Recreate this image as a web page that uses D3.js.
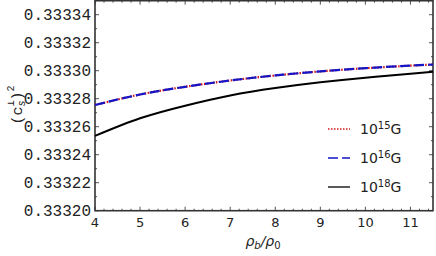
<!DOCTYPE html>
<html>
<head>
<meta charset="utf-8">
<script src="https://cdn.jsdelivr.net/npm/d3@7"></script>
<style>
  body { margin: 0; background: #fff; }
  svg { display: block; }
</style>
</head>
<body>
<div id="chart"></div>
<script>
// density ratio rho_b / rho_0
const xVals = [4, 5, 6, 7, 8, 9, 10, 11, 11.5];
// (c_s perp)^2 for each field strength
const b15 = [0.3332755, 0.3332830, 0.3332885, 0.3332930, 0.3332966, 0.3332995, 0.3333018, 0.3333036, 0.3333044];
const b16 = [0.3332755, 0.3332830, 0.3332885, 0.3332930, 0.3332966, 0.3332995, 0.3333018, 0.3333036, 0.3333044];
const b18 = [0.3332534, 0.3332660, 0.3332750, 0.3332823, 0.3332876, 0.3332917, 0.3332950, 0.3332978, 0.3332993];
const xTicks = [4, 5, 6, 7, 8, 9, 10, 11];
const yTicks = [0.33320, 0.33322, 0.33324, 0.33326, 0.33328, 0.33330, 0.33332, 0.33334];
const legendExp = ["15", "16", "18"];

const width = 436, height = 256;
const mLeft = 95, mRight = 433, mTop = 0.7, mBottom = 210.7;

let svg = d3.select("#chart").append("svg")
  .attr("width", width)
  .attr("height", height);

let x = d3.scaleLinear().domain([4, 11.5]).range([mLeft, mRight]);
let y = d3.scaleLinear().domain([0.33320, 0.33335]).range([mBottom, mTop]);

// minor + major ticks on the frame, pointing inward
let minorX = d3.range(4, 11.51, 0.2);
let minorY = d3.range(0, 16).map(i => 0.33320 + i * 0.00001);

let ticks = svg.append("g").attr("stroke", "#555").attr("stroke-width", 1);
minorX.forEach(v => {
  let major = Math.abs(v - Math.round(v)) < 1e-6;
  let len = major ? 4 : 2;
  ticks.append("line").attr("x1", x(v)).attr("x2", x(v)).attr("y1", mBottom).attr("y2", mBottom - len);
  ticks.append("line").attr("x1", x(v)).attr("x2", x(v)).attr("y1", mTop).attr("y2", mTop + len);
});
minorY.forEach((v, i) => {
  let len = i % 2 == 0 ? 4 : 2;
  ticks.append("line").attr("x1", mLeft).attr("x2", mLeft + len).attr("y1", y(v)).attr("y2", y(v));
  ticks.append("line").attr("x1", mRight).attr("x2", mRight - len).attr("y1", y(v)).attr("y2", y(v));
});

// frame
svg.append("rect")
  .attr("x", mLeft).attr("y", mTop)
  .attr("width", mRight - mLeft).attr("height", mBottom - mTop)
  .attr("fill", "none")
  .attr("stroke", "#333")
  .attr("stroke-width", 1.6);

let line = d3.line()
  .x((d, i) => x(xVals[i]))
  .y(d => y(d))
  .curve(d3.curveNatural);

svg.append("path").datum(b18)
  .attr("d", line)
  .attr("fill", "none")
  .attr("stroke", "#000")
  .attr("stroke-width", 2);

svg.append("path").datum(b15)
  .attr("d", line)
  .attr("fill", "none")
  .attr("stroke", "#d01818")
  .attr("stroke-width", 2.2)
  .attr("stroke-dasharray", "1.5,1.5");

svg.append("path").datum(b16)
  .attr("d", line)
  .attr("fill", "none")
  .attr("stroke", "#1515c8")
  .attr("stroke-width", 2.2)
  .attr("stroke-dasharray", "10,4");

// y tick labels
svg.append("g").selectAll("text").data(yTicks).enter().append("text")
  .attr("x", mLeft - 4)
  .attr("y", d => y(d) + 5)
  .attr("text-anchor", "end")
  .style("font-family", "'Liberation Mono', monospace")
  .style("font-size", "16px")
  .attr("fill", "#222")
  .text(d => d3.format(".5f")(d));

// x tick labels
svg.append("g").selectAll("text").data(xTicks).enter().append("text")
  .attr("x", d => x(d))
  .attr("y", 227)
  .attr("text-anchor", "middle")
  .style("font-family", "'DejaVu Sans', sans-serif")
  .style("font-size", "13px")
  .attr("fill", "#222")
  .text(d => d);

// x axis label
let xl = svg.append("text")
  .attr("x", 263).attr("y", 246)
  .attr("text-anchor", "middle")
  .style("font-family", "'DejaVu Sans', sans-serif")
  .style("font-size", "14px")
  .style("font-style", "italic")
  .attr("fill", "#222");
xl.append("tspan").text("ρ");
xl.append("tspan").attr("dy", 3).style("font-size", "10px").text("b");
xl.append("tspan").attr("dy", -3).text("/ρ");
xl.append("tspan").attr("dy", 3).style("font-size", "10px").style("font-style", "normal").text("0");

// y axis label
let yl = svg.append("text")
  .attr("transform", "translate(22,105) rotate(-90)")
  .attr("text-anchor", "middle")
  .style("font-family", "'Liberation Mono', monospace")
  .style("font-size", "15px")
  .attr("fill", "#222");
yl.append("tspan").text("(c");
yl.append("tspan").attr("dy", 3).style("font-size", "10px").style("font-style", "italic").text("s");
yl.append("tspan").attr("dy", -11).attr("dx", -6).style("font-size", "10px").text("⊥");
yl.append("tspan").attr("dy", 8).text(")");
yl.append("tspan").attr("dy", -8).style("font-size", "10px").text("2");

// legend
const legendStyles = [
  { color: "#d01818", dash: "1.5,1.5" },
  { color: "#1515c8", dash: "10,4" },
  { color: "#000", dash: null }
];
const legendY = [129, 158, 187];
legendExp.forEach((e, i) => {
  svg.append("line")
    .attr("x1", 328).attr("x2", 350)
    .attr("y1", legendY[i]).attr("y2", legendY[i])
    .attr("stroke", legendStyles[i].color)
    .attr("stroke-width", i == 2 ? 1.3 : 1.6)
    .attr("stroke-dasharray", legendStyles[i].dash);
  let t = svg.append("text")
    .attr("x", 360).attr("y", legendY[i] + 5)
    .style("font-family", "'DejaVu Sans', sans-serif")
    .style("font-size", "14px")
    .attr("fill", "#222");
  t.append("tspan").text("10");
  t.append("tspan").attr("dy", -5).style("font-size", "10px").text(e);
  t.append("tspan").attr("dy", 5).text("G");
});
</script>
</body>
</html>
